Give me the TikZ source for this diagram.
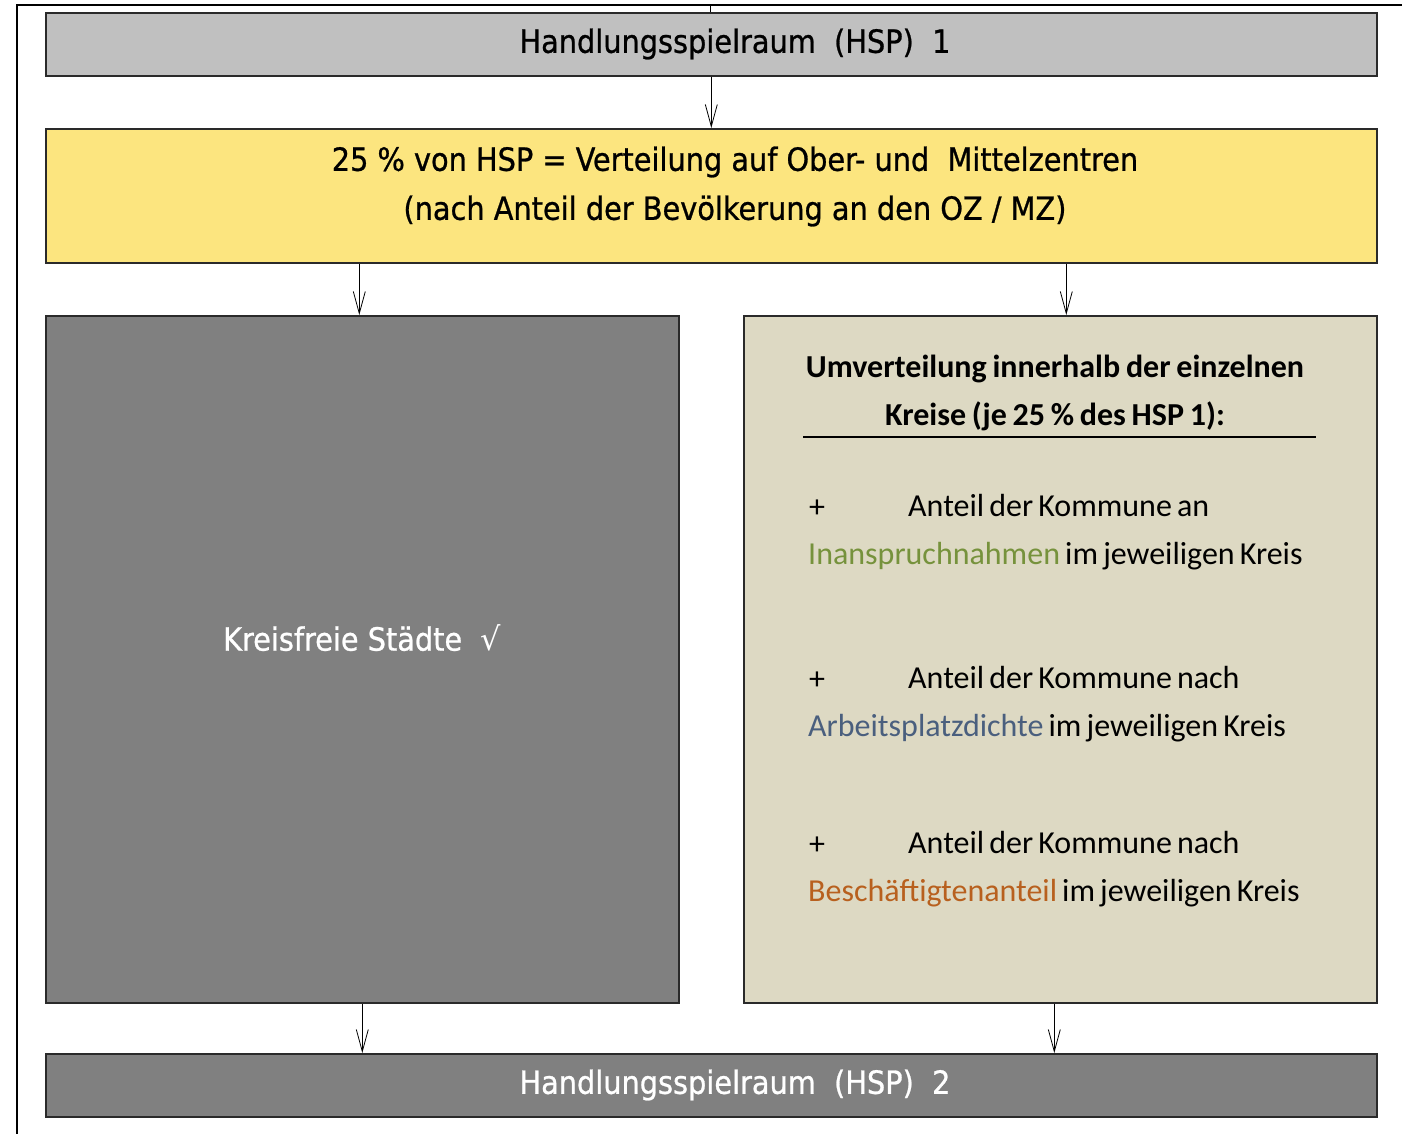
\documentclass[tikz,border=0pt]{standalone}
\usepackage{fontspec}
\setmainfont{Carlito}
\newfontfamily\tah[FakeBold=0.8]{DejaVu Sans Condensed}
\usetikzlibrary{arrows.meta}
\newcommand\tightsp[1]{\spaceskip=#1em plus 0.05em minus 0.02em\relax}
\definecolor{hspgray}{HTML}{C0C0C0}
\definecolor{darkbox}{HTML}{808080}
\definecolor{yelbox}{HTML}{FCE57F}
\definecolor{beige}{HTML}{DDD9C3}
\definecolor{olive}{HTML}{76923C}
\definecolor{slate}{HTML}{4A5F7E}
\definecolor{rust}{HTML}{B8601E}
\definecolor{bord}{HTML}{2A2A2A}
\begin{document}
\begin{tikzpicture}[x=1pt,y=-1pt,
  box/.style={draw=bord, line width=1.6pt, inner sep=0pt, anchor=north west},
  conn/.style={-{Straight Barb[length=22pt,width=12pt,line width=0.8pt]}, line width=0.8pt, draw=black},
  title/.style={font=\tah\fontsize{32}{38}\selectfont},
  body/.style={font=\fontsize{32}{38}\selectfont\tightsp{0.16}, inner sep=0pt, anchor=base west},
  head/.style={font=\bfseries\fontsize{32}{38}\selectfont\tightsp{0.18}, inner sep=0pt, anchor=base}]
\useasboundingbox (0,0) rectangle (1402,1134);
\fill[white] (0,0) rectangle (1402,1134);
\draw[line width=1.2pt] (1402,5) -- (17,5) -- (17,1134);
\draw[line width=0.8pt] (710,5) -- (710,12);
% boxes
\node[box, fill=hspgray, minimum width=1331pt, minimum height=63pt] (hsp1) at (45,12) {};
\node[box, fill=yelbox, minimum width=1331pt, minimum height=134pt] (yel) at (45,128) {};
\node[box, fill=darkbox, minimum width=633pt, minimum height=687pt] (kf) at (45,315) {};
\node[box, fill=beige, minimum width=633pt, minimum height=687pt] (um) at (743,315) {};
\node[box, fill=darkbox, minimum width=1331pt, minimum height=63pt] (hsp2) at (45,1053) {};
% texts
\node[title] (t1) at (735,44) {Handlungsspielraum\ \ (HSP)\ \ 1};
\node[title] (t2) at (735,162) {25 \% von HSP = Verteilung auf Ober- und\ \ Mittelzentren};
\node[title] (t3) at (735,211) {(nach Anteil der Bevölkerung an den OZ / MZ)};
\node[title, text=white] (t4) at (735,1085) {Handlungsspielraum\ \ (HSP)\ \ 2};
\node[title, text=white] (t5) at (362,638) {Kreisfreie Städte\ \ {\fontspec{DejaVu Sans}√}};
% right box contents
\node[head] (h1) at (1055,377) {Umverteilung innerhalb der einzelnen};
\node[head] (h2) at (1055,425) {Kreise (je 25 \% des HSP 1):};
\draw[line width=1.4pt] (803,437) -- (1316,437);
\node[body, anchor=base] (p1) at (817,517) {+};
\node[body] (a1) at (908,516) {Anteil der Kommune an};
\node[body] (b1) at (808,564) {\textcolor{olive}{Inanspruchnahmen} im jeweiligen Kreis};
\node[body, anchor=base] (p2) at (817,689) {+};
\node[body] (a2) at (908,688) {Anteil der Kommune nach};
\node[body] (b2) at (808,736) {\textcolor{slate}{Arbeitsplatzdichte} im jeweiligen Kreis};
\node[body, anchor=base] (p3) at (817,854) {+};
\node[body] (a3) at (908,853) {Anteil der Kommune nach};
\node[body] (b3) at (808,901) {\textcolor{rust}{Beschäftigtenanteil} im jeweiligen Kreis};
% connectors
\draw[conn] (hsp1.south) -- (yel.north);
\draw[conn] ([xshift=-3pt]yel.south -| kf.north) -- ([xshift=-3pt]kf.north);
\draw[conn] ([xshift=6pt]yel.south -| um.north) -- ([xshift=6pt]um.north);
\draw[conn] (kf.south) -- (kf.south |- hsp2.north);
\draw[conn] ([xshift=-6pt]um.south) -- ([xshift=-6pt]um.south |- hsp2.north);
\end{tikzpicture}
\end{document}
